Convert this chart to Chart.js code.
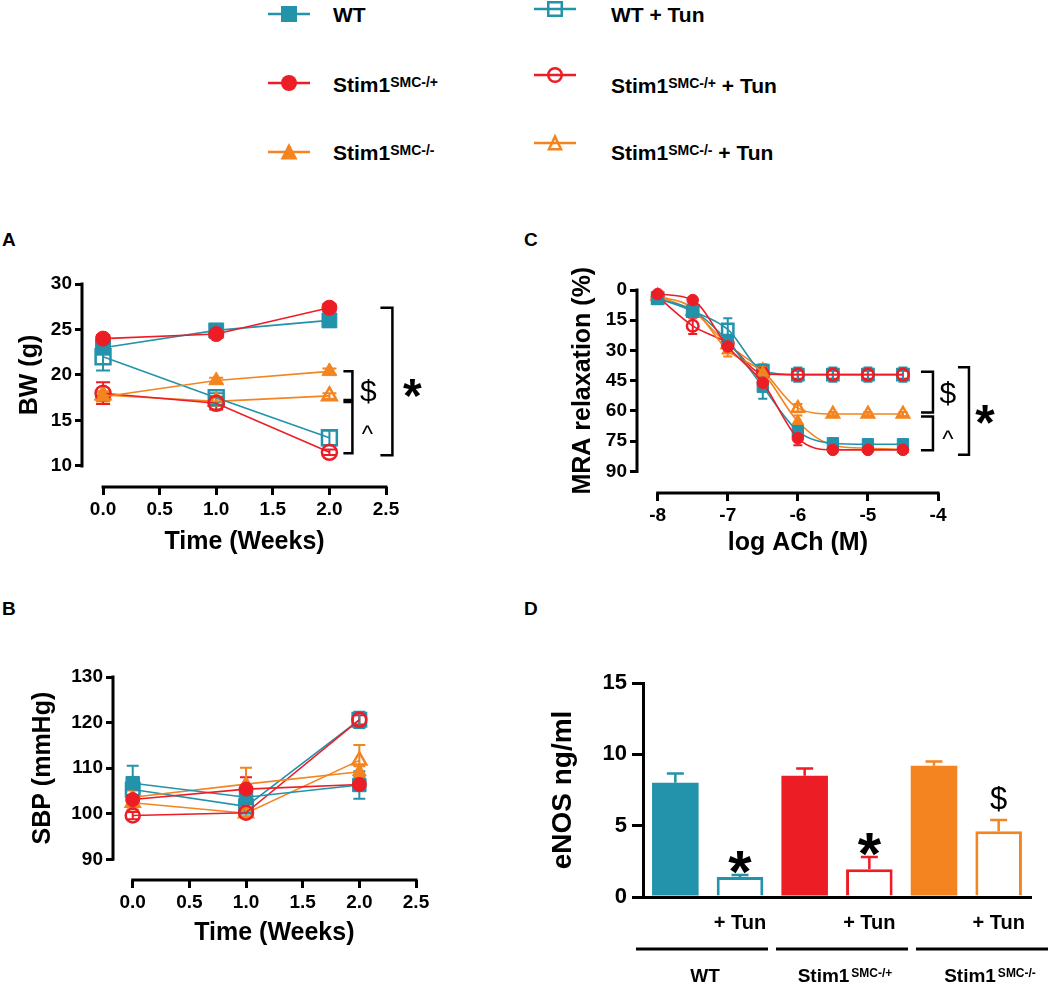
<!DOCTYPE html>
<html>
<head>
<meta charset="utf-8">
<title>Stim1 SMC + tunicamycin</title>
<script src="https://cdn.jsdelivr.net/npm/chart.js@4.4.1/dist/chart.umd.min.js"></script>
<style>
  body { margin: 0; background: #fff; font-family: 'Liberation Sans', Arial, sans-serif; }
  #page { position: relative; width: 1050px; height: 984px; overflow: hidden; background: #fff; }
  canvas { position: absolute; }
  .panel { position: absolute; font-weight: bold; font-size: 19px; line-height: 19px; }
  .leg { position: absolute; font-weight: bold; font-size: 21px; line-height: 21px; white-space: nowrap; }
  .leg sup { font-size: 14px; vertical-align: 5px; line-height: 0; }
  .legmk { position: absolute; }
</style>
</head>
<body>
<div id="page">
  <div class="panel" style="left:2px;top:230px">A</div>
  <div class="panel" style="left:2px;top:599px">B</div>
  <div class="panel" style="left:524px;top:230px">C</div>
  <div class="panel" style="left:524px;top:599px">D</div>

  <canvas id="chartA" width="470" height="300" style="left:0;top:260px"></canvas>
  <canvas id="chartB" width="470" height="334" style="left:0;top:650px"></canvas>
  <canvas id="chartC" width="510" height="300" style="left:540px;top:260px"></canvas>
  <canvas id="chartD" width="530" height="334" style="left:520px;top:650px"></canvas>
</div>

<script>
// ============================================
// DATA
// ============================================

const groupBase = ['WT', 'Stim1', 'Stim1'];
const groupSup = ['', 'SMC-/+', 'SMC-/-'];

// A: body weight (g) vs time (weeks)
const weeks = [0, 1, 2];
const weekTicks = [0, 0.5, 1, 1.5, 2, 2.5];
const bwTicks = [10, 15, 20, 25, 30];

const bwWT = [23.0, 24.9, 26.0];
const bwWTErr = [0.6, 0.5, 0.7];
const bwHet = [24.0, 24.5, 27.4];
const bwHetErr = [0.4, 0.4, 0.4];
const bwKO = [17.6, 19.4, 20.4];
const bwKOErr = [0.5, 0.3, 0.3];
const bwWTTun = [22.0, 17.5, 13.1];
const bwWTTunErr = [1.5, 0.5, 0.8];
const bwHetTun = [18.0, 16.9, 11.5];
const bwHetTunErr = [1.2, 0.7, 0.3];
const bwKOTun = [17.8, 17.1, 17.7];
const bwKOTunErr = [0.4, 0.4, 0.3];

// B: systolic blood pressure (mmHg)
const sbpTicks = [90, 100, 110, 120, 130];

const sbpWT = [106.7, 103.6, 106.3];
const sbpWTErr = [3.8, 1.5, 3.0];
const sbpHet = [103.1, 105.4, 106.4];
const sbpHetErr = [1.0, 2.6, 1.0];
const sbpKO = [103.6, 106.5, 109.2];
const sbpKOErr = [1.5, 3.6, 1.2];
const sbpWTTun = [105.3, 101.6, 120.6];
const sbpWTTunErr = [1.5, 1.0, 1.8];
const sbpHetTun = [99.6, 100.2, 120.6];
const sbpHetTunErr = [0.8, 0.8, 1.0];
const sbpKOTun = [102.4, 100.1, 111.7];
const sbpKOTunErr = [1.5, 1.0, 3.4];

// C: MRA relaxation (%) vs log ACh (M)
const logAch = [-8, -7.5, -7, -6.5, -6, -5.5, -5, -4.5];
const achTicks = [-8, -7, -6, -5, -4];
const mraTicks = [0, 15, 30, 45, 60, 75, 90];

const mraWT = [4.5, 10.0, 25.5, 48.0, 70.0, 76.0, 76.5, 76.5];
const mraWTErr = [1.0, 1.5, 3.0, 6.0, 2.5, 1.5, 1.5, 1.5];
const mraHet = [2.0, 5.0, 28.0, 46.0, 73.5, 79.3, 79.3, 79.3];
const mraHetErr = [1.0, 1.0, 3.0, 4.0, 3.5, 1.0, 1.0, 1.0];
const mraKO = [3.0, 9.0, 30.0, 41.0, 65.2, 77.0, 78.5, 79.0];
const mraKOErr = [1.0, 1.5, 3.0, 3.0, 3.0, 1.0, 1.0, 1.0];
const mraWTTun = [4.0, 10.5, 19.5, 40.0, 42.0, 42.0, 42.0, 42.0];
const mraWTTunErr = [1.0, 2.0, 5.5, 3.0, 3.5, 3.5, 3.5, 3.5];
const mraHetTun = [3.3, 17.8, 26.5, 41.5, 42.0, 42.0, 42.0, 42.0];
const mraHetTunErr = [1.0, 4.0, 3.0, 3.0, 2.0, 2.0, 2.0, 2.0];
const mraKOTun = [3.0, 10.5, 27.0, 40.0, 58.6, 61.5, 61.5, 61.5];
const mraKOTunErr = [1.0, 1.5, 3.0, 3.0, 2.0, 1.0, 1.0, 1.0];

// D: eNOS (ng/ml)
const enosLabels = ['', '+ Tun', '', '+ Tun', '', '+ Tun'];
const enosTicks = [0, 5, 10, 15];
const enosMean = [8.0, 1.4, 8.5, 1.95, 9.2, 4.6];
const enosErr = [0.65, 0.15, 0.5, 0.85, 0.3, 0.8];
const enosMarks = ['', '*', '', '*', '', '$'];


// ============================================
// STYLE
// ============================================

const teal = '#2392AB';
const red = '#EC1D25';
const orange = '#F3841F';
const groupColors = [teal, red, orange];
const groupShapes = ['rect', 'circle', 'triangle'];
const FONT = "'Liberation Sans', Arial, sans-serif";

Chart.defaults.font.family = FONT;
Chart.defaults.color = '#000';


// ============================================
// PLUGINS
// ============================================

function drawErrorBars(chart, o) {

    const { ctx } = chart;
    const yScale = chart.scales.y;

    ctx.save();
    ctx.lineWidth = o.width;
    ctx.lineCap = 'butt';

    chart.data.datasets.forEach((ds, i) => {

        if (!ds.errors) return;

        const meta = chart.getDatasetMeta(i);

        meta.data.forEach((el, j) => {

            const raw = ds.data[j];
            const v = typeof raw === 'number' ? raw : raw.y;
            const e = ds.errors[j];

            const top = yScale.getPixelForValue(v + e);
            const bot = o.upOnly ? el.y : yScale.getPixelForValue(v - e);

            ctx.strokeStyle = Array.isArray(ds.borderColor) ? ds.borderColor[j] : ds.borderColor;

            ctx.beginPath();
            ctx.moveTo(el.x, top);
            ctx.lineTo(el.x, bot);
            ctx.moveTo(el.x - o.cap, top);
            ctx.lineTo(el.x + o.cap, top);

            if (!o.upOnly) {
                ctx.moveTo(el.x - o.cap, bot);
                ctx.lineTo(el.x + o.cap, bot);
            }

            ctx.stroke();
        });
    });

    ctx.restore();
}

const errorBarsPlugin = {

    id: 'errorBars',

    defaults: { cap: 5, width: 2, upOnly: false, under: true },

    beforeDatasetsDraw(chart, args, o) {
        if (o.under) drawErrorBars(chart, o);
    },

    afterDatasetsDraw(chart, args, o) {
        if (!o.under) drawErrorBars(chart, o);
    }
};

// axis lines that stop at the first and last tick, plus titles
const gpAxesPlugin = {

    id: 'gpAxes',

    defaults: { lines: true, titleFont: 'bold 25px ' + FONT, xGap: 54, yGap: 52 },

    afterDraw(chart, args, o) {

        const { ctx, chartArea: a, scales: { x, y } } = chart;

        const span = s => {
            const p = s.ticks.map(t => s.getPixelForValue(t.value));
            return [Math.min(...p), Math.max(...p)];
        };

        const [x0, x1] = span(x);
        const [y0, y1] = span(y);

        ctx.save();
        ctx.strokeStyle = '#000';
        ctx.fillStyle = '#000';
        ctx.lineWidth = 3;

        if (o.lines) {
            ctx.beginPath();
            ctx.moveTo(a.left, y0 - 1.5);
            ctx.lineTo(a.left, y1 + 1.5);
            ctx.moveTo(x0 - 1.5, a.bottom);
            ctx.lineTo(x1 + 1.5, a.bottom);
            ctx.stroke();
        }

        ctx.font = o.titleFont;
        ctx.textAlign = 'center';
        ctx.textBaseline = 'middle';

        if (o.xTitle) {
            ctx.fillText(o.xTitle, (x0 + x1) / 2, a.bottom + o.xGap);
        }

        if (o.yTitle) {
            ctx.translate(a.left - o.yGap, (y0 + y1) / 2);
            ctx.rotate(-Math.PI / 2);
            ctx.fillText(o.yTitle, 0, 0);
        }

        ctx.restore();
    }
};

Chart.register(errorBarsPlugin, gpAxesPlugin);

// height of the glyph centre above the baseline, in em
const glyphRise = { '*': 0.58, '$': 0.36, '^': 0.52 };

function drawGlyph(ctx, t, cx, cy, size, weight) {
    ctx.font = `${weight} ${size}px ${FONT}`;
    ctx.fillStyle = '#000';
    ctx.textAlign = 'center';
    ctx.textBaseline = 'alphabetic';
    ctx.fillText(t, cx, cy + glyphRise[t] * size);
}

// significance brackets to the right of the last x value
function bracketPlugin(anchorX, list) {

    return {

        id: 'brackets',

        afterDraw(chart) {

            const { ctx, scales: { x, y } } = chart;
            const xa = x.getPixelForValue(anchorX);

            ctx.save();

            list.forEach(b => {

                const p1 = y.getPixelForValue(b.from);
                const p2 = y.getPixelForValue(b.to);
                const top = Math.min(p1, p2) - b.pad[0];
                const bot = Math.max(p1, p2) + b.pad[1];
                const bx = xa + b.dx;

                ctx.strokeStyle = '#000';
                ctx.lineWidth = 2.5;
                ctx.beginPath();
                ctx.moveTo(bx - b.arm, top);
                ctx.lineTo(bx, top);
                ctx.lineTo(bx, bot);
                ctx.lineTo(bx - b.arm, bot);
                ctx.stroke();

                drawGlyph(ctx, b.text, xa + b.tdx, (top + bot) / 2 + b.tdy, b.size, b.weight);
            });

            ctx.restore();
        }
    };
}


// ============================================
// HELPERS
// ============================================

function series(label, xs, ys, errs, g, open, sizes, smooth) {

    const color = groupColors[g];
    const shape = groupShapes[g];

    return {
        label,
        data: xs.map((x, i) => ({ x, y: ys[i] })),
        errors: errs,
        borderColor: color,
        borderWidth: 1.6,
        pointStyle: shape,
        pointRadius: sizes[shape],
        pointBackgroundColor: open ? 'rgba(255,255,255,0)' : color,
        pointBorderColor: color,
        pointBorderWidth: open ? 2.5 : 1,
        fill: false,
        clip: false,
        tension: 0,
        cubicInterpolationMode: smooth ? 'monotone' : 'default'
    };
}

function linAxis(min, max, ticks, fmt, fitKey, fitVal, tl, reverse) {

    return {
        type: 'linear',
        min,
        max,
        reverse: !!reverse,
        afterBuildTicks: s => { s.ticks = ticks.map(v => ({ value: v })); },
        afterFit: s => { s[fitKey] = fitVal; },
        grid: { drawOnChartArea: false, drawTicks: true, tickLength: tl, lineWidth: 3, color: '#000' },
        border: { display: false },
        ticks: {
            autoSkip: false,
            maxRotation: 0,
            padding: 3,
            color: '#000',
            font: { size: 19, weight: 'bold' },
            callback: fmt
        }
    };
}

function baseOptions(padding) {

    return {
        responsive: false,
        animation: false,
        devicePixelRatio: 1,
        layout: { padding, autoPadding: false },
        plugins: {
            legend: { display: false },
            tooltip: { enabled: false }
        }
    };
}

const fmt1 = v => Number(v).toFixed(1);
const fmt0 = v => String(v);


// ============================================
// A: BODY WEIGHT
// ============================================

const sizeAB = { rect: 10.5, circle: 7.5, triangle: 8.5 };

const optA = baseOptions({ top: 24, right: 84, left: 0, bottom: 0 });

optA.plugins.errorBars = { cap: 7, width: 2 };
optA.plugins.gpAxes = { xTitle: 'Time (Weeks)', yTitle: 'BW (g)', xGap: 55, yGap: 52 };
optA.scales = {
    x: linAxis(-0.186, 2.5, weekTicks, fmt1, 'height', 73, 8),
    y: linAxis(7.69, 30, bwTicks, fmt0, 'width', 82, 7)
};

new Chart(document.getElementById('chartA'), {

    type: 'line',

    data: {
        datasets: [
            series('Stim1 SMC-/+', weeks, bwHet, bwHetErr, 1, false, sizeAB),
            series('WT', weeks, bwWT, bwWTErr, 0, false, sizeAB),
            series('Stim1 SMC-/-', weeks, bwKO, bwKOErr, 2, false, sizeAB),
            series('Stim1 SMC-/+ + Tun', weeks, bwHetTun, bwHetTunErr, 1, true, sizeAB),
            series('WT + Tun', weeks, bwWTTun, bwWTTunErr, 0, true, sizeAB),
            series('Stim1 SMC-/- + Tun', weeks, bwKOTun, bwKOTunErr, 2, true, sizeAB)
        ]
    },

    options: optA,

    plugins: [
        bracketPlugin(2, [
            { from: bwKO[2], to: bwKOTun[2], pad: [0, 4], dx: 23, arm: 9, text: '$', tdx: 39, tdy: 5, size: 30, weight: 'normal' },
            { from: bwKOTun[2], to: bwHetTun[2], pad: [-6, 1], dx: 23, arm: 9, text: '^', tdx: 38, tdy: 2, size: 24, weight: 'normal' },
            { from: bwHet[2], to: bwHetTun[2], pad: [0, 3], dx: 63, arm: 12, text: '*', tdx: 83, tdy: 3, size: 48, weight: 'bold' }
        ])
    ]
});


// ============================================
// B: SYSTOLIC BLOOD PRESSURE
// ============================================

const sizeB = { rect: 9.5, circle: 7, triangle: 8 };

const optB = baseOptions({ top: 27, right: 54, left: 0, bottom: 0 });

optB.plugins.errorBars = { cap: 6, width: 2 };
optB.plugins.gpAxes = { xTitle: 'Time (Weeks)', yTitle: 'SBP (mmHg)', xGap: 53, yGap: 70 };
optB.scales = {
    x: linAxis(-0.174, 2.5, weekTicks, fmt1, 'height', 104, 8),
    y: linAxis(85.45, 130, sbpTicks, fmt0, 'width', 113, 7)
};

new Chart(document.getElementById('chartB'), {

    type: 'line',

    data: {
        datasets: [
            series('Stim1 SMC-/+', weeks, sbpHet, sbpHetErr, 1, false, sizeB),
            series('WT', weeks, sbpWT, sbpWTErr, 0, false, sizeB),
            series('Stim1 SMC-/-', weeks, sbpKO, sbpKOErr, 2, false, sizeB),
            series('Stim1 SMC-/+ + Tun', weeks, sbpHetTun, sbpHetTunErr, 1, true, sizeB),
            series('WT + Tun', weeks, sbpWTTun, sbpWTTunErr, 0, true, sizeB),
            series('Stim1 SMC-/- + Tun', weeks, sbpKOTun, sbpKOTunErr, 2, true, sizeB)
        ]
    },

    options: optB
});


// ============================================
// C: MRA RELAXATION
// ============================================

const sizeC = { rect: 8, circle: 5.8, triangle: 7 };

const optC = baseOptions({ top: 30, right: 112, left: 0, bottom: 0 });

optC.plugins.errorBars = { cap: 4.5, width: 2 };
optC.plugins.gpAxes = { xTitle: 'log ACh (M)', yTitle: 'MRA relaxation (%)', xGap: 50, yGap: 54 };
optC.scales = {
    x: linAxis(-8.295, -4, achTicks, fmt0, 'height', 67, 8),
    y: linAxis(0, 100.7, mraTicks, fmt0, 'width', 97, 7, true)
};

new Chart(document.getElementById('chartC'), {

    type: 'line',

    data: {
        datasets: [
            series('Stim1 SMC-/+', logAch, mraHet, mraHetErr, 1, false, sizeC, true),
            series('WT', logAch, mraWT, mraWTErr, 0, false, sizeC, true),
            series('Stim1 SMC-/-', logAch, mraKO, mraKOErr, 2, false, sizeC, true),
            series('Stim1 SMC-/+ + Tun', logAch, mraHetTun, mraHetTunErr, 1, true, sizeC, true),
            series('WT + Tun', logAch, mraWTTun, mraWTTunErr, 0, true, sizeC, true),
            series('Stim1 SMC-/- + Tun', logAch, mraKOTun, mraKOTunErr, 2, true, sizeC, true)
        ]
    },

    options: optC,

    plugins: [
        bracketPlugin(-4.5, [
            { from: mraWTTun[7], to: mraKOTun[7], pad: [3, -1.5], dx: 30, arm: 12, text: '$', tdx: 45, tdy: 0, size: 30, weight: 'normal' },
            { from: mraKOTun[7], to: mraHet[7], pad: [-2.5, 0.5], dx: 30, arm: 12, text: '^', tdx: 45, tdy: 1, size: 24, weight: 'normal' },
            { from: mraWTTun[7], to: mraHet[7], pad: [7.5, 5], dx: 66, arm: 11, text: '*', tdx: 82, tdy: 0, size: 50, weight: 'bold' }
        ])
    ]
});


// ============================================
// D: eNOS
// ============================================

const enosColor = enosMean.map((v, i) => groupColors[Math.floor(i / 2)]);
const enosFill = enosMean.map((v, i) => i % 2 ? '#fff' : enosColor[i]);
const enosBorder = enosMean.map((v, i) => i % 2 ? 3 : 0);

const enosExtras = {

    id: 'enosExtras',

    afterDraw(chart) {

        const { ctx, chartArea: a, scales: { y } } = chart;
        const meta = chart.getDatasetMeta(0);

        ctx.save();

        // significance marks above the error bars
        meta.data.forEach((bar, i) => {
            const t = enosMarks[i];
            if (!t) return;
            const top = y.getPixelForValue(enosMean[i] + enosErr[i]);
            if (t === '*') drawGlyph(ctx, t, bar.x, top - 18, 60, 'bold');
            else drawGlyph(ctx, t, bar.x, top - 22, 31, 'normal');
        });

        // genotype group lines and names
        const start = a.left - 7;
        const end = chart.width - 2;
        const gap = 8;
        const w = (end - start - gap * 2) / 3;

        ctx.strokeStyle = '#000';
        ctx.lineWidth = 3;
        ctx.fillStyle = '#000';
        ctx.textBaseline = 'alphabetic';
        ctx.textAlign = 'left';

        groupBase.forEach((base, k) => {

            const l = start + k * (w + gap);

            ctx.beginPath();
            ctx.moveTo(l, a.bottom + 52);
            ctx.lineTo(l + w, a.bottom + 52);
            ctx.stroke();

            ctx.font = 'bold 19px ' + FONT;
            const wb = ctx.measureText(base).width;
            ctx.font = 'bold 12px ' + FONT;
            const ws = groupSup[k] ? ctx.measureText(groupSup[k]).width + 2 : 0;

            const lx = l + w / 2 - (wb + ws) / 2 + (k === 2 ? 8 : 3);
            const by = a.bottom + 85;

            ctx.font = 'bold 19px ' + FONT;
            ctx.fillText(base, lx, by);

            if (groupSup[k]) {
                ctx.font = 'bold 12px ' + FONT;
                ctx.fillText(groupSup[k], lx + wb + 2, by - 5);
            }
        });

        ctx.restore();
    }
};

const optD = baseOptions({ top: 33, right: 19, left: 0, bottom: 0 });

optD.plugins.errorBars = { cap: 8.5, width: 2.5, upOnly: true, under: false };
optD.plugins.gpAxes = { lines: false, yTitle: 'eNOS ng/ml', yGap: 80, titleFont: 'bold 28px ' + FONT };
optD.scales = {

    x: {
        type: 'category',
        afterFit: s => { s.height = 87; },
        grid: { display: false, drawTicks: false },
        border: { display: true, width: 3, color: '#000' },
        ticks: { autoSkip: false, maxRotation: 0, padding: 14, color: '#000', font: { size: 20, weight: 'bold' } }
    },

    y: {
        type: 'linear',
        min: 0,
        max: 15,
        afterBuildTicks: s => { s.ticks = enosTicks.map(v => ({ value: v })); },
        afterFit: s => { s.width = 123; },
        grid: { drawOnChartArea: false, drawTicks: true, tickLength: 11, lineWidth: 3, color: '#000' },
        border: { display: true, width: 3, color: '#000' },
        ticks: { padding: 5, color: '#000', font: { size: 22, weight: 'bold' } }
    }
};

new Chart(document.getElementById('chartD'), {

    type: 'bar',

    data: {
        labels: enosLabels,
        datasets: [
            {
                label: 'eNOS',
                data: enosMean,
                errors: enosErr,
                backgroundColor: enosFill,
                borderColor: enosColor,
                borderWidth: enosBorder,
                barPercentage: 0.72,
                categoryPercentage: 1
            }
        ]
    },

    options: optD,

    plugins: [enosExtras]
});


// ============================================
// LEGEND
// ============================================

function markerSvg(shape, color, open) {

    const fill = open ? 'none' : color;
    const sw = open ? 2.5 : 0;
    let m = '';

    if (shape === 'rect') {
        m = `<rect x="${13 + sw / 2}" y="${2 + sw / 2}" width="${16 - sw}" height="${16 - sw}" fill="${fill}" stroke="${color}" stroke-width="${sw}"/>`;
    } else if (shape === 'circle') {
        m = `<circle cx="21" cy="10" r="${8 - sw / 2}" fill="${fill}" stroke="${color}" stroke-width="${sw}"/>`;
    } else {
        m = `<polygon points="21,${1 + sw} ${12.5 + sw},${17.5 - sw / 2} ${29.5 - sw},${17.5 - sw / 2}" fill="${fill}" stroke="${color}" stroke-width="${sw}" stroke-linejoin="miter"/>`;
    }

    return `<svg width="42" height="20" viewBox="0 0 42 20"><line x1="0" y1="10" x2="42" y2="10" stroke="${color}" stroke-width="2.5"/>${m}</svg>`;
}

const page = document.getElementById('page');

const legMarkX = [288.5, 554.5];
const legTextX = [333, 611];
const legMarkY = [[14, 83, 152], [9, 75, 143]];
const legTextY = [[4, 74, 142], [4, 75, 142]];

groupBase.forEach((base, g) => {

    [false, true].forEach((tun, c) => {

        const mk = document.createElement('div');
        mk.className = 'legmk';
        mk.style.left = (legMarkX[c] - 21) + 'px';
        mk.style.top = (legMarkY[c][g] - 10) + 'px';
        mk.innerHTML = markerSvg(groupShapes[g], groupColors[g], tun);
        page.appendChild(mk);

        const tx = document.createElement('div');
        tx.className = 'leg';
        tx.style.left = legTextX[c] + 'px';
        tx.style.top = legTextY[c][g] + 'px';
        tx.innerHTML = base + (groupSup[g] ? `<sup>${groupSup[g]}</sup>` : '') + (tun ? ' + Tun' : '');
        page.appendChild(tx);
    });
});
</script>
</body>
</html>
